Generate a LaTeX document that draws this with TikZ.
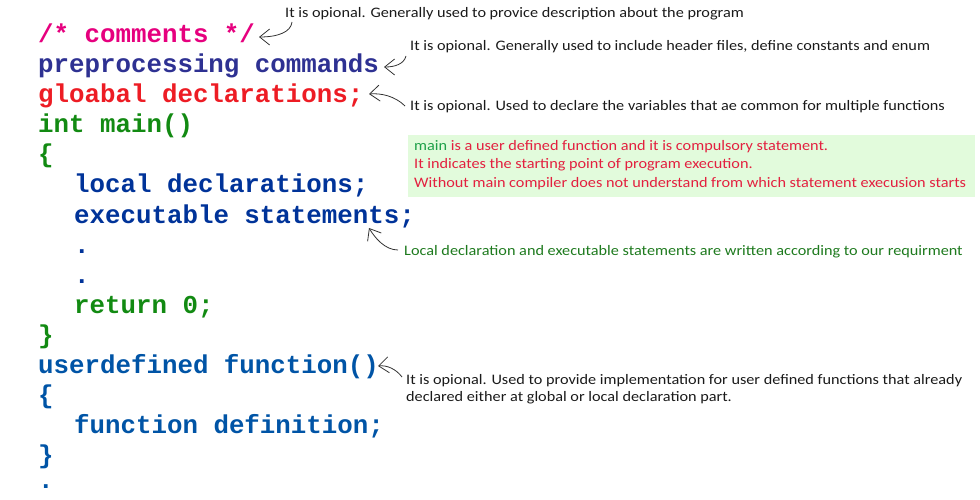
\documentclass[tikz,border=0pt]{standalone}
\usepackage{fontspec}
\setmonofont{Liberation Mono}
\newfontfamily\handfont{Carlito}[FakeStretch=1.12]
\usetikzlibrary{arrows.meta}
\definecolor{cmag}{HTML}{E6007E}
\definecolor{cpre}{HTML}{2E3192}
\definecolor{cred}{HTML}{ED1C24}
\definecolor{cgreen}{HTML}{128A12}
\definecolor{cnavy}{HTML}{003399}
\definecolor{cblue}{HTML}{0054A6}
\definecolor{boxgreen}{HTML}{E2FBDC}
\definecolor{boxred}{HTML}{E3203F}
\definecolor{mainGreen}{HTML}{1EA048}
\definecolor{notegreen}{HTML}{1E7A1E}
\definecolor{notegray}{HTML}{1A1A1A}
\begin{document}
\begin{tikzpicture}[x=1pt,y=-1pt,
  code/.style={inner sep=0pt, anchor=base west, font=\ttfamily\bfseries\fontsize{25.8}{30}\selectfont},
  note/.style={inner sep=0pt, anchor=base west, text=notegray, font=\handfont\fontsize{14.5}{17}\selectfont},
  pointer/.style={draw=black!80, line width=0.8pt, arrows={-Straight Barb[length=10pt,width=16pt,line width=0.8pt]}}]
\useasboundingbox (0,0) rectangle (980,500);
% code lines
\node[code, text=cmag]   (l1)  at (38,43)  {/* comments */};
\node[code, text=cpre]   (l2)  at (38,73)  {preprocessing commands};
\node[code, text=cred]   (l3)  at (38,103) {gloabal declarations;};
\node[code, text=cgreen] (l4)  at (38,133) {int main()};
\node[code, text=cgreen] (l5)  at (38,163) {\{};
\node[code, text=cnavy]  (l6)  at (74,193) {local declarations;};
\node[code, text=cnavy]  (l7)  at (74,223) {executable statements;};
\node[code, text=cnavy]  (l8)  at (74,253) {.};
\node[code, text=cnavy]  (l9)  at (74,283) {.};
\node[code, text=cgreen] (l10) at (74,313) {return 0;};
\node[code, text=cgreen] (l11) at (38,343) {\}};
\node[code, text=cblue]  (l12) at (38,373) {userdefined function()};
\node[code, text=cblue]  (l13) at (38,403) {\{};
\node[code, text=cblue]  (l14) at (74,433) {function definition;};
\node[code, text=cblue]  (l15) at (38,463) {\}};
\node[code, text=cblue]  (l16) at (38,488) {.};
% notes
\node[note] (n1) at (285,18) {It is opional. Generally used to provice description about the program};
\node[note] (n2) at (410,51) {It is opional. Generally used to include header files, define constants and enum};
\node[note] (n3) at (410,111) {It is opional. Used to declare the variables that ae common for multiple functions};
\node[fill=boxgreen, inner sep=0pt, minimum width=567, minimum height=62, anchor=north west] (box) at (408,135) {};
\node[note, text=boxred] (b1) at (414,151) {\textcolor{mainGreen}{main} is a user defined function and it is compulsory statement.};
\node[note, text=boxred] (b2) at (414,168) {It indicates the starting point of program execution.};
\node[note, text=boxred] (b3) at (414,187) {Without main compiler does not understand from which statement execusion starts};
\node[note, text=notegreen] (n4) at (404,255) {Local declaration and executable statements are written according to our requirment};
\node[note] (n5) at (406,384) {It is opional. Used to provide implementation for user defined functions that already};
\node[note] (n6) at (406,401) {declared either at global or local declaration part.};
% pointer ends
\coordinate (p1s) at (292,22);  \coordinate (p1t) at (259,37);
\coordinate (p2s) at (406,56);  \coordinate (p2t) at (384,67);
\coordinate (p3s) at (405,106); \coordinate (p3t) at (369,94);
\coordinate (p4s) at (398,250); \coordinate (p4t) at (369,228);
\coordinate (p5s) at (402,377); \coordinate (p5t) at (378,366);
\draw[pointer] (p1s) .. controls (291,32) and (278,37) .. (p1t);
\draw[pointer] (p2s) .. controls (404,64) and (395,67) .. (p2t);
\draw[pointer] (p3s) .. controls (395,96) and (381,93) .. (p3t);
\draw[pointer] (p4s) .. controls (385,250) and (375,238) .. (p4t);
\draw[pointer] (p5s) .. controls (396,369) and (387,365) .. (p5t);
\end{tikzpicture}
\end{document}
